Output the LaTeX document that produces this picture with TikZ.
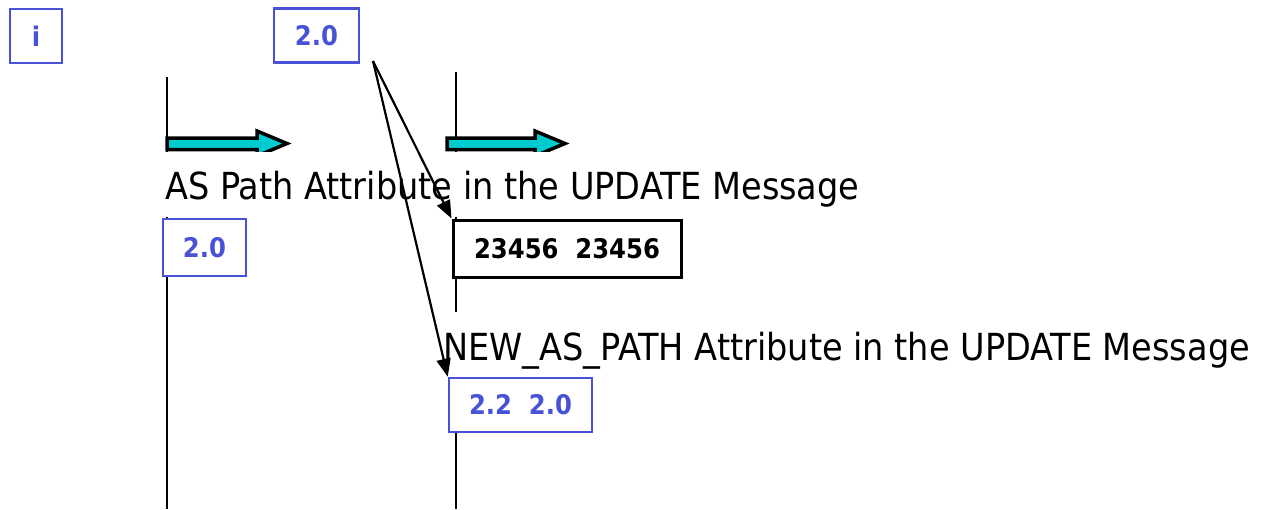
\documentclass[tikz,border=0pt]{standalone}
\usepackage{fontspec}
\setmainfont{DejaVu Sans Condensed}
\usetikzlibrary{arrows.meta}
\definecolor{asblue}{RGB}{72,82,214}
\definecolor{ascyan}{RGB}{0,204,208}

\begin{document}
\begin{tikzpicture}[x=1pt, y=-1pt,
    asbox/.style = {draw=asblue, line width=2.5pt, fill=white, text=asblue, inner sep=0pt, font=\bfseries\fontsize{27}{27}\selectfont},
    numbox/.style = {draw=black, line width=3pt, fill=white, inner sep=0pt, font=\bfseries\fontsize{27}{27}\selectfont},
    caption/.style = {fill=white, anchor=base west, inner xsep=2pt, inner ysep=0pt, text height=47pt, text depth=18pt, font=\fontsize{37.3}{40}\selectfont},
    life/.style = {line width=2.5pt},
    flow/.style = {draw=black, line width=3.5pt, fill=ascyan, line join=miter},
    jump/.style = {line width=2.2pt, -{Triangle[length=18pt, width=14pt]}}]
\useasboundingbox (0,0) rectangle (1261,509);

% lifelines
\coordinate (lefttop) at (167,77);
\coordinate (leftend) at (167,509);
\coordinate (righttop) at (456,72);
\coordinate (rightend) at (456,509);
\draw[life] (lefttop) -- (leftend);
\draw[life] (righttop) -- (rightend);

% block arrows
\foreach \x/\len in {167/90, 447/88}
  \draw[flow, shift={(\x,0)}] (0,138) -- (\len,138) -- (\len,131) -- (\len+30,143.5)
    -- (\len,156) -- (\len,149.5) -- (0,149.5) -- cycle;

% captions
\node[caption] (aspath) at (163,199) {AS Path Attribute in the UPDATE Message};
\node[caption, text height=48pt] (newpath) at (441,360) {NEW\_AS\_PATH Attribute in the UPDATE Message};

% boxes
\node[asbox, minimum width=52pt, minimum height=54pt] (peer) at (36,36) {i};
\node[asbox, minimum width=85pt, minimum height=54pt] (origin) at (316.5,35.5) {2.0};
\node[asbox, minimum width=83pt, minimum height=57pt] (recv) at (204.5,247.5) {2.0};
\node[numbox, minimum width=228pt, minimum height=57pt] (trans) at (567,248.5) {23456\ \ 23456};
\node[asbox, minimum width=143pt, minimum height=54pt] (newas) at (520.5,405) {2.2\ \ 2.0};

% connectors
\coordinate (fork) at (373,61);
\draw[jump] (fork) -- (trans.north west);
\draw[jump] (fork) -- (newas.north west);
\end{tikzpicture}
\end{document}
